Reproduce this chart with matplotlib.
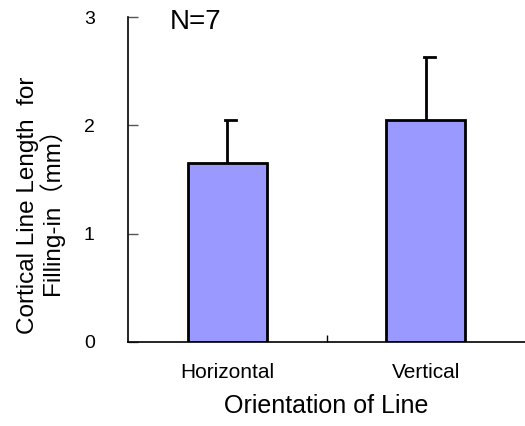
import matplotlib
matplotlib.use("Agg")
import matplotlib.pyplot as plt

categories = ["Horizontal", "Vertical"]
means = [1.65, 2.05]
errors = [0.40, 0.58]
yticks = [0, 1, 2, 3]

plt.rcParams['font.family'] = ['Liberation Sans', 'Noto Sans CJK JP']

fig = plt.figure(figsize=(5.25, 4.26), dpi=100)
ax = fig.add_axes([128/525, (426-342)/426, (525-128)/525, (342-17)/426])

x = list(range(len(categories)))
ax.bar(x, means, width=0.4, color="#9999ff", edgecolor="black", linewidth=2, zorder=2)
for xi, m, e in zip(x, means, errors):
    ax.plot([xi, xi], [m, m + e], color="black", linewidth=2, zorder=1, solid_capstyle="butt")
    ax.plot([xi - 0.01, xi + 0.045], [m + e, m + e], color="black", linewidth=2, zorder=1)

ax.set_xlim(-0.5, 1.5)
ax.set_ylim(0, 3)
ax.set_yticks(yticks)
ax.set_yticklabels([str(t) for t in yticks], fontsize=14)
ax.set_xticks(x)
ax.set_xticklabels(categories, fontsize=15)
ax.set_xticks([0.5], minor=True)
ax.tick_params(axis="x", which="major", length=0, pad=15)
ax.tick_params(axis="x", which="minor", length=5, direction="in", width=1)
ax.tick_params(axis="y", direction="in", length=7, width=1, pad=24, color="#555555")

for s in ("top", "right"):
    ax.spines[s].set_visible(False)
for s in ("left", "bottom"):
    ax.spines[s].set_linewidth(1.2)

ax.set_xlabel("Orientation of Line", fontsize=18, labelpad=9)
ax.set_ylabel("Cortical Line Length  for\nFilling-in（mm）", fontsize=17.5, linespacing=1.0)
ax.yaxis.set_label_coords(-0.16, 0.42)
ax.text(0.106, 0.985, "N=7", transform=ax.transAxes, fontsize=20, va="center", ha="left")

fig.savefig("out.png", dpi=100)
